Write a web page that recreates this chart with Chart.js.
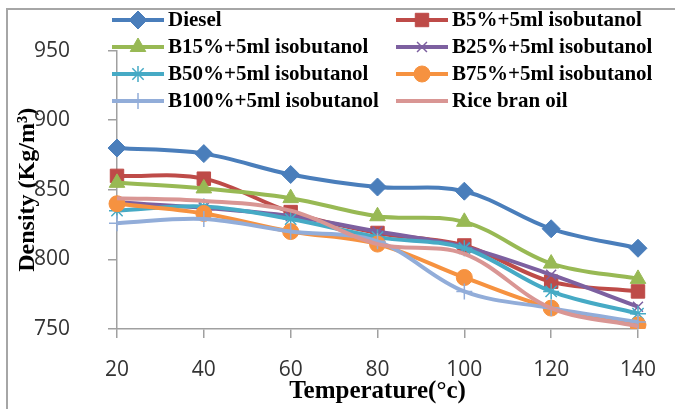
<!DOCTYPE html>
<html>
<head>
<meta charset="utf-8">
<script src="https://cdn.jsdelivr.net/npm/chart.js@4"></script>
<style>
  html, body { margin: 0; padding: 0; background: #fff; }
  #wrap { position: relative; width: 675px; height: 409px; overflow: hidden; }
  #frame { position: absolute; left: 6px; top: 8px; width: 720px; height: 460px; border: 2px solid #a6a6a6; box-sizing: border-box; }
  #chart { position: absolute; left: 0; top: 0; }
</style>
</head>
<body>
<div id="wrap">
  <div id="frame"></div>
  <canvas id="chart" width="675" height="409"></canvas>
</div>
<script>
// Temperature categories
const temps = ['20', '40', '60', '80', '100', '120', '140'];

// Density values (Kg/m3)
const diesel   = [880, 876, 861, 852, 849, 822, 808];
const b5       = [860, 858, 834, 819, 810, 784, 777];
const b15      = [855, 851, 844, 831, 827, 797, 786];
const b25      = [841, 837, 831, 820, 809, 789, 766];
const b50      = [835, 838, 829, 816, 808, 777, 761];
const b75      = [840, 833, 820, 811, 787, 765, 753];
const b100     = [826, 829, 820, 813, 777, 765, 755];
const riceBran = [844, 842, 835, 811, 804, 765, 752];

const yTicks = [750, 800, 850, 900, 950];

const seriesNames = ['Diesel', 'B5%+5ml isobutanol', 'B15%+5ml isobutanol', 'B25%+5ml isobutanol',
  'B50%+5ml isobutanol', 'B75%+5ml isobutanol', 'B100%+5ml isobutanol', 'Rice bran oil'];
const seriesData = [diesel, b5, b15, b25, b50, b75, b100, riceBran];
const colors = ['#4a7ebb', '#be4b48', '#98b954', '#7d60a0', '#46aac5', '#f69240', '#92add9', '#d99694'];
const markers = ['rectRot', 'rect', 'triangle', 'crossRot', 'star', 'circle', 'cross', false];
const radii = [9, 9.5, 9, 7, 8, 8, 8, 0];

const datasets = seriesData.map((d, i) => ({
  label: seriesNames[i],
  data: d,
  borderColor: colors[i],
  backgroundColor: colors[i],
  borderWidth: 4,
  tension: 0.35,
  pointStyle: markers[i],
  pointRadius: radii[i],
  pointHoverRadius: radii[i],
  pointBorderWidth: (markers[i] === 'crossRot' || markers[i] === 'star' || markers[i] === 'cross') ? 1.5 : 1,
  order: 7 - i
}));

// legend drawn inside the plot, two columns like the original
const insideLegend = {
  id: 'insideLegend',
  afterDraw(chart) {
    const ctx = chart.ctx;
    const colX = [112, 396];
    const rowY = [20, 47, 74, 101];
    ctx.save();
    datasets.forEach((ds, i) => {
      const x0 = colX[i % 2];
      const y = rowY[Math.floor(i / 2)];
      ctx.strokeStyle = ds.borderColor;
      ctx.lineWidth = 4;
      ctx.beginPath();
      ctx.moveTo(x0, y);
      ctx.lineTo(x0 + 52, y);
      ctx.stroke();
      if (ds.pointStyle) {
        ctx.fillStyle = ds.backgroundColor;
        ctx.strokeStyle = ds.borderColor;
        ctx.lineWidth = ds.pointBorderWidth;
        Chart.helpers.drawPoint(ctx, { pointStyle: ds.pointStyle, radius: ds.pointRadius, rotation: 0, borderWidth: ds.pointBorderWidth }, x0 + 26, y);
      }
      ctx.fillStyle = '#000';
      ctx.font = 'bold 21px "Liberation Serif", "Times New Roman", serif';
      ctx.textBaseline = 'middle';
      ctx.textAlign = 'left';
      ctx.fillText(ds.label, x0 + 56, y + 1);
    });
    ctx.restore();
  }
};

const tickFont = { family: '"Liberation Sans Narrow", "Open Sans", sans-serif', size: 21 };
const titleFont = { family: '"Liberation Serif", "Times New Roman", serif', weight: 'bold', size: 25 };

new Chart(document.getElementById('chart'), {
  type: 'line',
  data: { labels: temps, datasets: datasets },
  options: {
    responsive: false,
    animation: false,
    layout: { padding: { left: 0, top: 49, right: 27, bottom: 0 } },
    plugins: { legend: { display: false }, tooltip: { enabled: false } },
    scales: {
      x: {
        offset: false,
        grid: { display: true, drawOnChartArea: false, drawTicks: true, tickLength: 9, color: '#a0a0a0', lineWidth: 1.5 },
        border: { display: true, color: '#a0a0a0', width: 1.5 },
        ticks: { color: '#333', font: tickFont, padding: 19, maxRotation: 0 },
        title: { display: true, text: 'Temperature(°c)', color: '#000', font: titleFont, padding: { top: 0, bottom: 2 } },
        afterFit(s) { s.height = 80; }
      },
      y: {
        min: 750,
        max: 950,
        afterBuildTicks(s) { s.ticks = yTicks.map(v => ({ value: v })); },
        grid: { display: true, drawOnChartArea: false, drawTicks: true, tickLength: 9, color: '#a0a0a0', lineWidth: 1.5 },
        border: { display: true, color: '#a0a0a0', width: 1.5 },
        ticks: { color: '#333', font: tickFont, padding: 38 },
        title: { display: true, text: 'Density (Kg/m³)', color: '#000', font: { family: titleFont.family, weight: 'bold', size: 24 }, padding: { top: 13, bottom: 0 } },
        afterFit(s) { s.width = 117; }
      }
    }
  },
  plugins: [insideLegend]
});
</script>
</body>
</html>
